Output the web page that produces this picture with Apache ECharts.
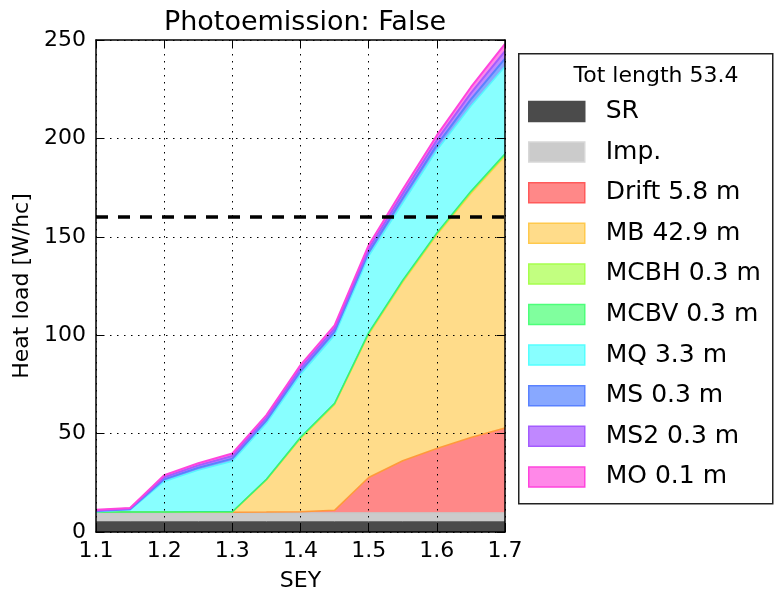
<!DOCTYPE html>
<html>
<head>
<meta charset="utf-8">
<script src="https://cdn.jsdelivr.net/npm/echarts@6/dist/echarts.min.js"></script>
<style>html,body{margin:0;padding:0;background:#fff}#c{width:775px;height:592px}</style>
</head>
<body>
<div id="c"></div>
<script>
const sey = ['1.1', '1.15', '1.2', '1.25', '1.3', '1.35', '1.4', '1.45', '1.5', '1.55', '1.6', '1.65', '1.7'];
const SR = [5.2, 5.2, 5.2, 5.2, 5.2, 5.2, 5.2, 5.2, 5.2, 5.2, 5.2, 5.2, 5.2];
const Imp = [4.6, 4.6, 4.6, 4.6, 4.6, 4.6, 4.6, 4.6, 4.6, 4.6, 4.6, 4.6, 4.6];
const Drift = [0.2, 0.2, 0.2, 0.2, 0.2, 0.3, 0.5, 1.2, 17.9, 26.4, 32.6, 38.2, 43.0];
const MB = [0.05, 0.05, 0.05, 0.05, 0.1, 16.3, 37.2, 53.8, 72.8, 90.8, 108.6, 124.0, 138.2];
const MCBH = [0.05, 0.05, 0.05, 0.1, 0.1, 0.2, 0.3, 0.3, 0.4, 0.5, 0.5, 0.6, 0.6];
const MCBV = [0.05, 0.05, 0.05, 0.1, 0.1, 0.2, 0.3, 0.3, 0.4, 0.5, 0.5, 0.6, 0.6];
const MQ = [0.2, 1.1, 15.5, 21.2, 25.6, 28.4, 31.9, 34.6, 38.9, 39.2, 42.0, 43.3, 44.3];
const MS = [0.3, 0.35, 1.1, 1.2, 1.4, 1.5, 1.7, 1.8, 1.9, 2.4, 2.6, 3.3, 4.0];
const MS2 = [0.3, 0.35, 1.1, 1.2, 1.3, 1.4, 1.6, 1.6, 1.8, 2.2, 2.5, 3.2, 3.8];
const MO = [0.3, 0.3, 1.0, 1.1, 1.3, 1.3, 1.5, 1.6, 1.8, 2.2, 2.4, 3.0, 3.7];
const threshold = 160;
const names = ['SR', 'Imp.', 'Drift 5.8 m', 'MB 42.9 m', 'MCBH 0.3 m', 'MCBV 0.3 m', 'MQ 3.3 m', 'MS 0.3 m', 'MS2 0.3 m', 'MO 0.1 m'];
const values = [SR, Imp, Drift, MB, MCBH, MCBV, MQ, MS, MS2, MO];
const fills = ['#4b4b4b', '#cbcbcb', '#ff8888', '#ffdc8a', '#c2ff80', '#80ff9e', '#88ffff', '#88a8ff', '#c088ff', '#ff88e8'];
const edges = ['#4b4b4b', '#c4c4c4', '#ff9a3a', '#ffc94d', '#9cff3a', '#33ee80', '#55f5ff', '#5a82ff', '#a45cff', '#ff44dd'];
const legendEdges = ['#4b4b4b', '#d8d8d8', '#ff5a5a', '#ffc94d', '#a6ff4d', '#4dff7a', '#55ffff', '#5a82ff', '#a45cff', '#ff44dd'];
const lineWidths = [1, 1, 1.5, 1.5, 1.5, 1.5, 1.5, 2, 2, 2];
const titleText = 'Photoemission: False';
const legendTitle = 'Tot length 53.4';
const xName = 'SEY';
const yName = 'Heat load [W/hc]';

const FONT = 'DejaVu Sans';
const chart = echarts.init(document.getElementById('c'), null, {renderer: 'canvas'});

const series = names.map((n, k) => {
  const s = {
    name: n,
    type: 'line',
    stack: 'total',
    xAxisIndex: 0, yAxisIndex: 0,
    data: values[k],
    symbol: 'none',
    smooth: false,
    lineStyle: {color: edges[k], width: lineWidths[k]},
    itemStyle: {color: fills[k]},
    areaStyle: {color: fills[k], opacity: 1},
    animation: false
  };
  if (k === names.length - 1) {
    s.markLine = {
      silent: true,
      symbol: 'none',
      label: {show: false},
      lineStyle: {color: '#000', width: 3.5, type: [12, 10]},
      data: [{yAxis: threshold}],
      animation: false
    };
  }
  return s;
});

const axisCommon = {
  axisLine: {show: true, onZero: false, lineStyle: {color: '#000', width: 1.5}},
  axisTick: {show: true, inside: true, length: 8, lineStyle: {color: '#000', width: 1}},
  z: 10
};
const catTick = {show: true, inside: true, length: 8, interval: 1, lineStyle: {color: '#000', width: 1}};

chart.setOption({
  animation: false,
  backgroundColor: '#fff',
  title: [
    {text: titleText, left: 300, top: 4, textAlign: 'center',
     textStyle: {fontFamily: FONT, fontSize: 27, fontWeight: 'normal', color: '#000'}},
    {text: legendTitle, left: 651, top: 60, textAlign: 'center',
     textStyle: {fontFamily: FONT, fontSize: 22, fontWeight: 'normal', color: '#000'}}
  ],
  grid: {left: 96, right: 270, top: 40, bottom: 60, containLabel: false, outerBoundsMode: 'none'},
  xAxis: [
    Object.assign({}, axisCommon, {
      type: 'category', position: 'bottom', data: sey, boundaryGap: false,
      name: xName, nameLocation: 'middle', nameGap: 38,
      nameTextStyle: {fontFamily: FONT, fontSize: 22, color: '#000'},
      axisTick: catTick,
      axisLabel: {fontFamily: FONT, fontSize: 22, color: '#000', margin: 8, interval: 1,
        formatter: v => Number(v).toFixed(1)},
      splitLine: {show: true, interval: 1, lineStyle: {color: '#000', width: 1, type: [1.5, 5.5]}}
    }),
    Object.assign({}, axisCommon, {
      type: 'category', position: 'top', data: sey, boundaryGap: false,
      axisTick: catTick,
      axisLabel: {show: false}, splitLine: {show: false}
    })
  ],
  yAxis: [
    Object.assign({}, axisCommon, {
      type: 'value', position: 'left', min: 0, max: 250, interval: 50,
      name: yName, nameLocation: 'middle', nameGap: 62, nameRotate: 90,
      nameTextStyle: {fontFamily: FONT, fontSize: 22, color: '#000'},
      axisLabel: {fontFamily: FONT, fontSize: 22, color: '#000', margin: 10},
      splitLine: {show: true, lineStyle: {color: '#000', width: 1, type: [1.5, 5.5]}}
    }),
    Object.assign({}, axisCommon, {
      type: 'value', position: 'right', min: 0, max: 250, interval: 50,
      axisLabel: {show: false}, splitLine: {show: false}
    })
  ],
  legend: {
    orient: 'vertical',
    left: 528, top: 99,
    padding: 0,
    itemWidth: 56, itemHeight: 20, itemGap: 15.6,
    icon: 'rect',
    selectedMode: false,
    textStyle: {fontFamily: FONT, fontSize: 25, color: '#000', padding: [0, 0, 0, 16]},
    data: names.map((n, k) => ({
      name: n, icon: 'rect',
      itemStyle: {color: fills[k], borderColor: legendEdges[k], borderWidth: 1.5}
    }))
  },
  graphic: [{
    type: 'rect', left: 518, top: 53, z: 0,
    shape: {width: 254, height: 450},
    style: {fill: '#fff', stroke: '#222', lineWidth: 1.5}
  }],
  series: series
});
</script>
</body>
</html>
